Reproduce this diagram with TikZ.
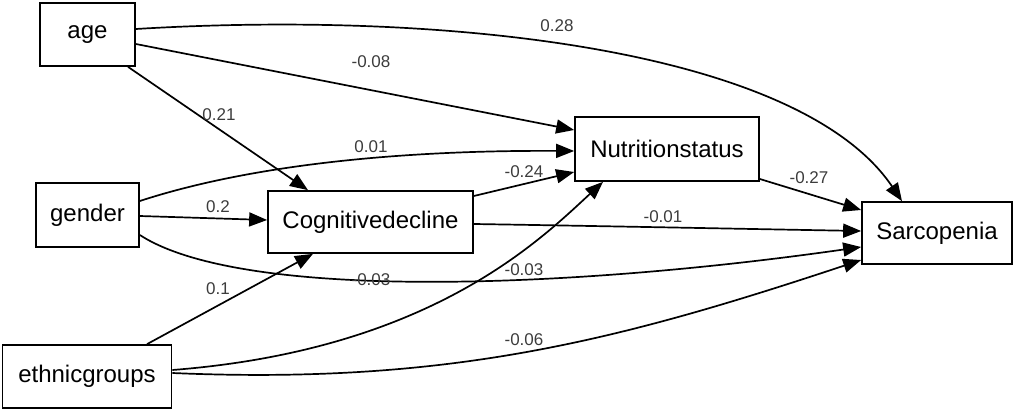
\documentclass[tikz,border=0pt]{standalone}
\usepackage{fontspec}
\setmainfont{Liberation Sans}
\usetikzlibrary{arrows.meta,calc}
\definecolor{labgray}{RGB}{60,60,60}
\tikzset{
  var/.style={draw=black, line width=1.7pt, rectangle, inner sep=0pt, font=\fontsize{24}{28}\selectfont},
  path/.style={draw=black, line width=1.7pt, -{Triangle[length=18pt,width=14pt]}},
  coef/.style={text=labgray, inner sep=0pt, font=\fontsize{17}{20}\selectfont}
}
\begin{document}
\begin{tikzpicture}[x=1pt,y=-1pt]
\useasboundingbox (0,0) rectangle (1020,412);
% nodes
\node[var, minimum width=95pt, minimum height=63pt] (age) at (87.5,34.5) {age};
\node[var, minimum width=103pt, minimum height=64pt] (gender) at (87.5,215) {gender};
\node[var, minimum width=169pt, minimum height=63pt] (eth) at (87,376.5) {ethnicgroups};
\node[var, minimum width=205pt, minimum height=62pt] (cog) at (370.5,222) {Cognitivedecline};
\node[var, minimum width=184pt, minimum height=64pt] (nut) at (667,149) {Nutritionstatus};
\node[var, minimum width=150pt, minimum height=62pt] (sar) at (937,233) {Sarcopenia};
% connectors
\draw[path] ($(age.east)+(0,-5.5)$) .. controls (450,10) and (800,50) .. ($(sar.north)+(-35,0)$);
\draw[path] ($(age.east)+(0,9.5)$) -- ($(nut.west)+(0,-19)$);
\draw[path] ($(age.south)+(40.5,0)$) -- ($(cog.north)+(-62.5,0)$);
\draw[path] ($(gender.east)+(0,-14)$) .. controls (250,165) and (400,150) .. ($(nut.west)+(0,2)$);
\draw[path] ($(gender.east)+(0,1)$) -- ($(cog.west)+(0,-2)$);
\draw[path] ($(gender.east)+(0,20)$) .. controls (240,300) and (560,290) .. ($(sar.west)+(0,14)$);
\draw[path] ($(eth.north)+(60,0)$) -- ($(cog.south)+(-57.5,0)$);
\draw[path] ($(eth.east)+(0,-6.5)$) .. controls (430,350) and (540,240) .. ($(nut.south)+(-64,0)$);
\draw[path] ($(eth.east)+(0,-3.5)$) .. controls (450,385) and (620,340) .. ($(sar.west)+(0,27)$);
\draw[path] ($(cog.east)+(0,-26)$) -- ($(nut.west)+(0,23)$);
\draw[path] ($(cog.east)+(0,2)$) .. controls (600,226) and (750,229) .. ($(sar.west)+(0,-2)$);
\draw[path] ($(nut.east)+(0,30)$) -- ($(sar.west)+(0,-23)$);
% coefficients
\node[coef] (l1) at (557,26) {0.28};
\node[coef] (l2) at (371,62) {-0.08};
\node[coef] (l3) at (219,115) {0.21};
\node[coef] (l4) at (371,147) {0.01};
\node[coef] (l5) at (218,207) {0.2};
\node[coef] (l6) at (371,280) {-0.03};
\node[coef] (l7) at (218,289) {0.1};
\node[coef] (l8) at (524,270) {-0.03};
\node[coef] (l9) at (524,340) {-0.06};
\node[coef] (l10) at (524,172) {-0.24};
\node[coef] (l11) at (663,217) {-0.01};
\node[coef] (l12) at (809,178) {-0.27};
\end{tikzpicture}
\end{document}
